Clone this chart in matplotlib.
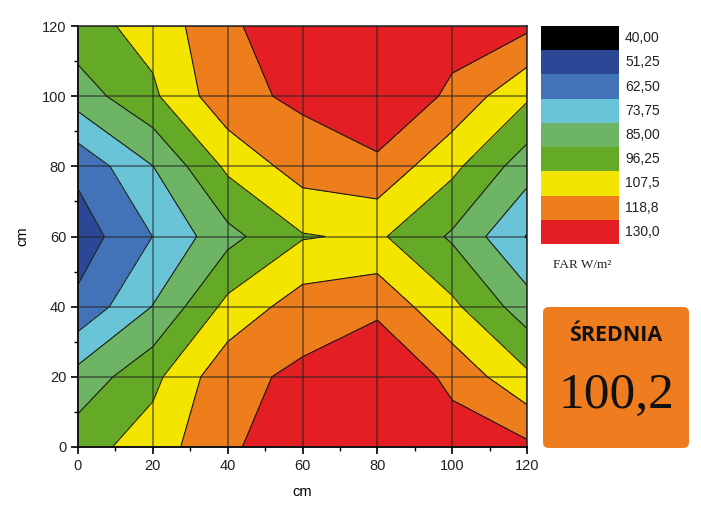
import numpy as np
import matplotlib
matplotlib.use('Agg')
import matplotlib.pyplot as plt
from matplotlib.patches import Rectangle, FancyBboxPatch

# grid of measuring points (cm)
x_cm = [0, 20, 40, 60, 80, 100, 120]
y_cm = [0, 20, 40, 60, 80, 100, 120]

# FAR values (W/m2), one list per row (y)
far_y0 = [91.5, 101.8, 117.1, 125.5, 133.4, 125.3, 121.2]
far_y20 = [77.8, 93.2, 115.5, 121.0, 131.1, 115.5, 98.5]
far_y40 = [54.1, 74.1, 99.5, 113.1, 115.8, 98.7, 78.9]
far_y60 = [45.1, 62.6, 81.6, 95.4, 98.2, 83.4, 61.9]
far_y80 = [54.2, 73.6, 98.6, 112.8, 115.6, 99.1, 78.9]
far_y100 = [79.2, 94.3, 115.5, 120.9, 131.0, 116.0, 97.9]
far_y120 = [92.1, 100.2, 117.0, 125.5, 132.3, 124.4, 121.1]

levels = [40, 51.25, 62.5, 73.75, 85, 96.25, 107.5, 118.75, 130]
level_labels = ['40,00', '51,25', '62,50', '73,75', '85,00',
                '96,25', '107,5', '118,8', '130,0']
band_colors = ['#000000', '#2d4797', '#4273b9', '#6ac4d8', '#6db565',
               '#65aa27', '#f4e500', '#ee7d1c', '#e31f23']
mean_far = '100,2'

W, H = 701, 512
fig = plt.figure(figsize=(W / 100, H / 100), dpi=100)

ax = fig.add_axes([78 / W, 1 - 447 / H, 449 / W, 421 / H])
Z = np.array([far_y0, far_y20, far_y40, far_y60, far_y80, far_y100, far_y120])
X, Y = np.meshgrid(x_cm, y_cm)

ax.contourf(X, Y, Z, levels=levels, colors=band_colors + [band_colors[-1]],
            extend='both', zorder=1)
# everything above the top level stays plain red, so no line at 130
ax.contour(X, Y, Z, levels=levels[:-1], colors='#1a1a1a', linewidths=0.8,
           zorder=2)

ax.set_xlim(0, 120)
ax.set_ylim(0, 120)
ax.set_xticks(x_cm)
ax.set_yticks(y_cm)
ax.set_xticks(np.arange(10, 120, 20), minor=True)
ax.set_yticks(np.arange(10, 120, 20), minor=True)
ax.set_axisbelow(False)
ax.grid(True, which='major', color='#222222', lw=1.3, alpha=0.55)

tick_font = dict(family='Liberation Sans', size=10.5)
for lab in ax.get_xticklabels() + ax.get_yticklabels():
    lab.set_fontfamily('Liberation Sans')
    lab.set_fontsize(10.5)
    lab.set_color('#222222')
ax.tick_params(which='major', direction='out', length=5, width=1.2,
               top=False, right=False)
ax.tick_params(which='minor', direction='out', length=3, width=1.0,
               top=False, right=False)
for s in ['left', 'bottom']:
    ax.spines[s].set_linewidth(1.3)
for s in ['top', 'right']:
    ax.spines[s].set_linewidth(1.1)
    ax.spines[s].set_color('#222222')

ax.set_xlabel('cm', fontdict=tick_font, labelpad=9)
ax.set_ylabel('cm', fontdict=tick_font, labelpad=9)

# colour legend
lax = fig.add_axes([541 / W, 1 - 244 / H, 78 / W, 218 / H])
n = len(band_colors)
for i, c in enumerate(band_colors):
    lax.add_patch(Rectangle((0, n - 1 - i), 1, 1, color=c, lw=0))
lax.set_xlim(0, 1)
lax.set_ylim(0, n)
lax.axis('off')
for i, lab in enumerate(level_labels):
    yp = 26 + (i + 0.5) * 218 / n
    fig.text(625 / W, 1 - yp / H, lab, ha='left', va='center',
             family='Liberation Sans', size=10, color='#222222')

fig.text(553 / W, 1 - 265 / H, 'FAR W/m²', ha='left', va='center',
         family='Liberation Serif', size=9.5, color='#222222')

# average box
bax = fig.add_axes([543 / W, 1 - 448 / H, 146 / W, 141 / H])
bax.add_patch(FancyBboxPatch((0, 0), 1, 1,
                             boxstyle='round,pad=0,rounding_size=0.04',
                             fc='#ef7d1f', ec='none', clip_on=False))
bax.set_xlim(0, 1)
bax.set_ylim(0, 1)
bax.axis('off')
bax.text(0.5, 0.8, 'ŚREDNIA', ha='center', va='center',
         family=['Open Sans', 'DejaVu Sans'], weight='bold', size=15.5,
         color='#111111')
bax.text(0.5, 0.37, mean_far, ha='center', va='center',
         family='Liberation Serif', size=37, color='#111111')

fig.savefig('out.png', dpi=100)
